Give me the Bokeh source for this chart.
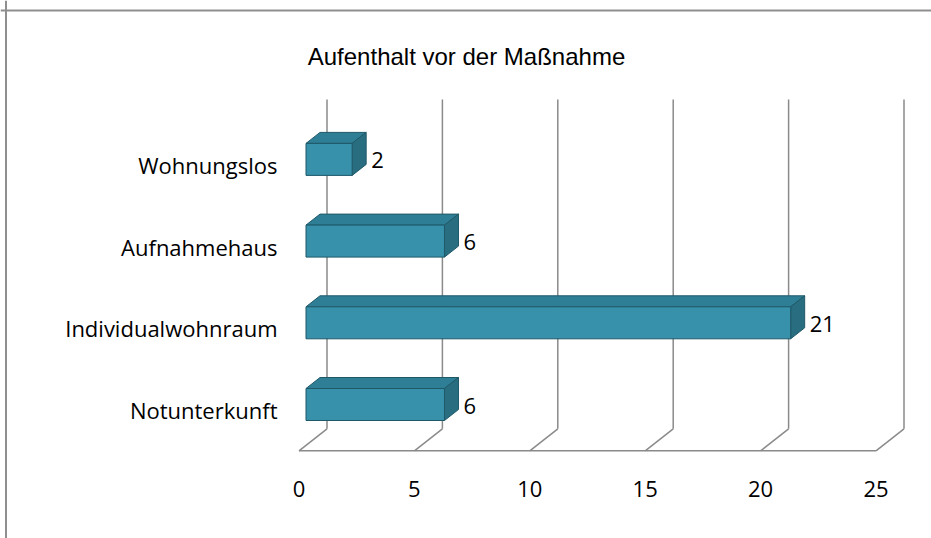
from bokeh.plotting import figure
from bokeh.models import Range1d, ColumnDataSource, Span
from bokeh.embed import file_html
from bokeh.resources import INLINE
from bokeh.core.properties import value

# ---------------- data ----------------
categories = ["Notunterkunft", "Individualwohnraum", "Aufnahmehaus", "Wohnungslos"]
counts = [6, 21, 6, 2]
ticks = [0, 5, 10, 15, 20, 25]
tick_labels = ["0", "5", "10", "15", "20", "25"]
title_text = "Aufenthalt vor der Maßnahme"

# ---------------- layout (page pixels) ----------------
W, H = 931, 538
MARGIN = 0
X0_PAGE = 298.5      # value 0 on the front floor edge
PX_PER_UNIT = 23.08
Y0_PAGE = 409.5      # first category centre on the front plane
PX_PER_CAT = 81.7
DEPTH_DX, DEPTH_DY = 28, 22   # full depth shift of the 3D box in px
BAR_HALF = 16 / PX_PER_CAT    # half bar height, category units
WALL_TOP = 3.53               # top of back wall, category units
FLOOR = -0.5


def fx(px):
    return (px - X0_PAGE) / PX_PER_UNIT


def fy(py):
    return (Y0_PAGE - py) / PX_PER_CAT


def ddx(d):
    return DEPTH_DX * d / PX_PER_UNIT


def ddy(d):
    return DEPTH_DY * d / PX_PER_CAT


p = figure(width=W, height=H,
           x_range=Range1d(fx(MARGIN), fx(MARGIN + W)),
           y_range=Range1d(fy(MARGIN + H), fy(MARGIN)),
           x_axis_type=None, y_axis_type=None,
           output_backend="svg", toolbar_location=None, min_border=0)
p.grid.visible = False
p.outline_line_color = None
p.background_fill_color = "white"
p.border_fill_color = "white"

# chart border (top and left only visible)
p.add_layout(Span(location=fy(10), dimension="width", line_color="#8f8f8f", line_width=2))
p.add_layout(Span(location=fx(5.5), dimension="height", line_color="#8f8f8f", line_width=2))

GRID = "#8a8a8a"
# front floor edge
p.segment(x0=[ticks[0]], y0=[FLOOR], x1=[ticks[-1]], y1=[FLOOR], line_color=GRID, line_width=1.5)
# floor diagonals and back-wall gridlines
bx = [t + ddx(1) for t in ticks]
p.segment(x0=ticks, y0=[FLOOR] * len(ticks), x1=bx, y1=[FLOOR + ddy(1)] * len(ticks),
          line_color=GRID, line_width=1.5)
p.segment(x0=bx, y0=[FLOOR + ddy(1)] * len(ticks), x1=bx, y1=[WALL_TOP + ddy(1)] * len(ticks),
          line_color=GRID, line_width=1.5)

# 3D bars
FRONT = "#3791ab"
TOP = "#2e7e96"
SIDE = "#296d80"
EDGE = "#1f5968"
ys = list(range(len(categories)))
fdx, fdy = ddx(0.25), ddy(0.25)
dx, dy = ddx(0.5), ddy(0.5)
left = [fdx] * len(counts)
right = [v + fdx for v in counts]
bottom = [y - BAR_HALF + fdy for y in ys]
top = [y + BAR_HALF + fdy for y in ys]

top_xs = [[l, r, r + dx, l + dx] for l, r in zip(left, right)]
top_ys = [[t, t, t + dy, t + dy] for t in top]
side_xs = [[r, r, r + dx, r + dx] for r in right]
side_ys = [[b, t, t + dy, b + dy] for b, t in zip(bottom, top)]

p.patches(top_xs, top_ys, fill_color=TOP, line_color=EDGE, line_width=1)
p.patches(side_xs, side_ys, fill_color=SIDE, line_color=EDGE, line_width=1)
p.quad(left=left, right=right, bottom=bottom, top=top,
       fill_color=FRONT, line_color=EDGE, line_width=1)

# value labels
vsrc = ColumnDataSource(dict(x=[r + 19 / PX_PER_UNIT for r in right],
                             y=[y + fdy - 1 / PX_PER_CAT for y in ys],
                             t=[str(v) for v in counts]))
p.text(x="x", y="y", text="t", source=vsrc, text_font=value("Open Sans"),
       text_font_size="22px", text_color="black", text_align="left", text_baseline="middle")

# category labels
csrc = ColumnDataSource(dict(x=[fx(277)] * len(categories), y=ys, t=categories))
p.text(x="x", y="y", text="t", source=csrc, text_font=value("Open Sans"),
       text_font_size="22px", text_color="black", text_align="right", text_baseline="middle")

# tick labels
tsrc = ColumnDataSource(dict(x=ticks, y=[fy(488)] * len(ticks), t=tick_labels))
p.text(x="x", y="y", text="t", source=tsrc, text_font=value("Open Sans"),
       text_font_size="22px", text_color="black", text_align="center", text_baseline="middle")

# title
p.text(x=[fx(466)], y=[fy(56)], text=[title_text], text_font=value("Liberation Sans"),
       text_font_size="24px", text_color="black", text_align="center", text_baseline="middle")

open("out.html", "w").write(file_html(p, INLINE))
